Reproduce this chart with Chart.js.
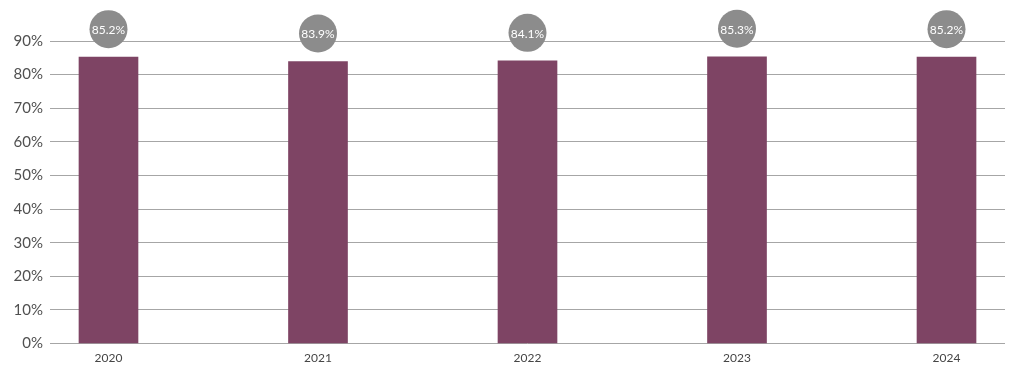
<!DOCTYPE html>
<html>
<head>
<meta charset="utf-8">
<script src="https://cdn.jsdelivr.net/npm/chart.js@4.4.1/dist/chart.umd.min.js"></script>
<style>
  html, body { margin: 0; padding: 0; background: #ffffff; }
  #wrap { position: relative; width: 1024px; height: 374px; }
</style>
</head>
<body>
<div id="wrap"><canvas id="c"></canvas></div>
<script>
// ---- data ----
const years = ['2020', '2021', '2022', '2023', '2024'];
const values = [85.2, 83.9, 84.1, 85.3, 85.2];
const valueLabels = ['85.2%', '83.9%', '84.1%', '85.3%', '85.2%'];
const yTicks = [0, 10, 20, 30, 40, 50, 60, 70, 80, 90];

const points = values.map((v, i) => ({ x: i, y: v }));

const bubblePlugin = {
  id: 'bubbles',
  afterDatasetsDraw(chart) {
    const ctx = chart.ctx;
    const meta = chart.getDatasetMeta(0);
    meta.data.forEach((bar, i) => {
      const cx = bar.x;
      const cy = bar.y - 28;
      ctx.save();
      ctx.beginPath();
      ctx.arc(cx, cy, 19, 0, Math.PI * 2);
      ctx.fillStyle = '#8c8c8c';
      ctx.fill();
      ctx.fillStyle = '#ffffff';
      ctx.font = '12px Lato, "Open Sans", sans-serif';
      ctx.textAlign = 'center';
      ctx.textBaseline = 'middle';
      ctx.fillText(valueLabels[i], cx, cy + 1);
      ctx.restore();
    });
  }
};

new Chart(document.getElementById('c'), {
  type: 'bar',
  data: {
    datasets: [{
      data: points,
      backgroundColor: '#7e4464',
      borderWidth: 0,
      barThickness: 59
    }]
  },
  options: {
    responsive: true,
    maintainAspectRatio: false,
    animation: false,
    layout: { padding: { top: 41, right: 19, bottom: 2, left: 0 } },
    plugins: { legend: { display: false }, tooltip: { enabled: false } },
    scales: {
      x: {
        type: 'linear',
        offset: false,
        min: -0.2792,
        max: 4.2792,
        afterBuildTicks(scale) {
          scale.ticks = years.map((_, i) => ({ value: i }));
        },
        ticks: {
          callback: (v) => years[v],
          color: '#454545',
          font: { family: 'Lato, "Open Sans", sans-serif', size: 12 },
          padding: 7,
          maxRotation: 0,
          autoSkip: false
        },
        grid: { display: false, drawTicks: false, offset: false },
        border: { display: false }
      },
      y: {
        min: 0,
        max: 90,
        afterBuildTicks(scale) {
          scale.ticks = yTicks.map(v => ({ value: v }));
        },
        afterFit(scale) { scale.width = 50; },
        ticks: {
          callback: (v) => v + '%',
          color: '#505050',
          font: { family: 'Lato, "Open Sans", sans-serif', size: 15 },
          padding: 7
        },
        grid: { color: '#a6a6a6', lineWidth: 1, drawTicks: false },
        border: { display: false }
      }
    }
  },
  plugins: [bubblePlugin]
});
</script>
</body>
</html>
